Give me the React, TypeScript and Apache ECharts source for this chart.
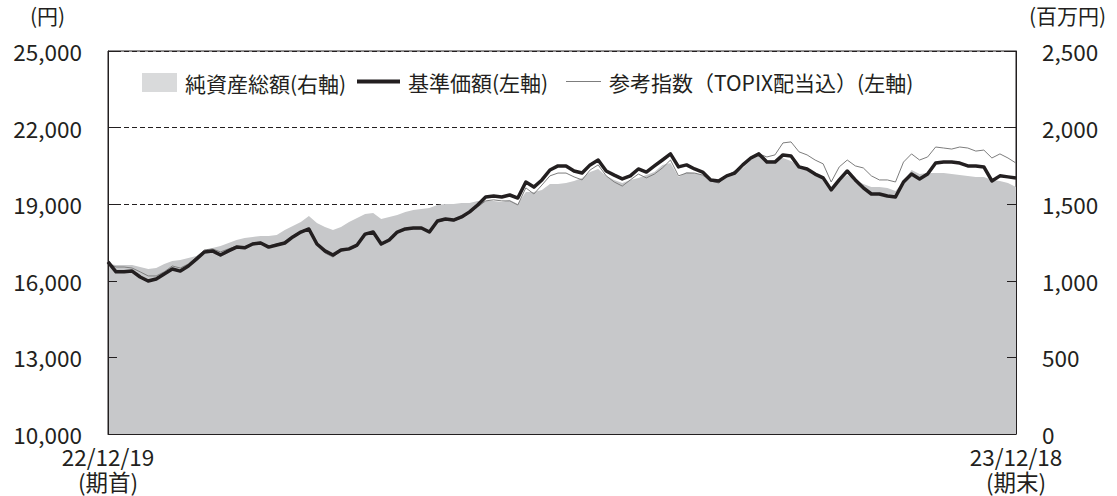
import React, { useEffect, useRef } from 'react';
import * as echarts from 'echarts';

// 基準価額 (円, left axis)
const navValues = [
  16740, 16350, 16350, 16380, 16150, 15990, 16070, 16270, 16460, 16380,
  16580, 16850, 17130, 17170, 17010, 17170, 17320, 17290, 17440, 17480,
  17320, 17400, 17480, 17720, 17910, 18030, 17440, 17170, 17010, 17210,
  17250, 17400, 17830, 17910, 17440, 17600, 17910, 18030, 18070, 18070,
  17910, 18340, 18420, 18380, 18500, 18700, 18970, 19280, 19320, 19280,
  19360, 19240, 19870, 19670, 19950, 20340, 20500, 20500, 20300, 20220,
  20540, 20730, 20300, 20140, 19990, 20110, 20380, 20260, 20500, 20730,
  20970, 20460, 20540, 20380, 20260, 19950, 19910, 20110, 20220, 20540,
  20810, 20970, 20650, 20650, 20930, 20890, 20460, 20380, 20180, 20030,
  19560, 19950, 20300, 19950, 19640, 19400, 19400, 19320, 19280, 19870,
  20180, 19990, 20180, 20610, 20650, 20650, 20610, 20500, 20500, 20460,
  19910, 20110, 20070, 20030,
];

// 参考指数（TOPIX配当込） (left axis)
const topixValues = [
  16660, 16540, 16540, 16500, 16350, 16190, 16190, 16350, 16580, 16500,
  16660, 16930, 17210, 17250, 17130, 17250, 17360, 17320, 17480, 17520,
  17360, 17440, 17520, 17760, 17950, 18030, 17400, 17090, 16930, 17170,
  17210, 17360, 17790, 17870, 17400, 17560, 17870, 17990, 18030, 18030,
  17910, 18300, 18380, 18340, 18460, 18660, 18890, 19130, 19170, 19130,
  19130, 18970, 19640, 19400, 19750, 20110, 20220, 20220, 20070, 19950,
  20340, 20540, 20110, 19870, 19710, 19950, 20180, 20030, 20180, 20420,
  20730, 20110, 20220, 20220, 20140, 19910, 19830, 20110, 20300, 20540,
  20850, 20970, 20850, 20930, 21400, 21440, 21050, 20930, 20730, 20580,
  19870, 20460, 20730, 20500, 20420, 20110, 19950, 19950, 19870, 20650,
  20970, 20730, 20850, 21240, 21200, 21160, 21240, 21200, 21080, 21120,
  20810, 20970, 20810, 20610,
];

// 純資産総額 (百万円, right axis)
const netAssets = [
  1110, 1103, 1103, 1103, 1090, 1077, 1084, 1110, 1129, 1136,
  1149, 1162, 1194, 1214, 1227, 1247, 1266, 1279, 1286, 1292,
  1292, 1299, 1332, 1358, 1384, 1423, 1377, 1351, 1332, 1351,
  1384, 1410, 1436, 1443, 1403, 1417, 1430, 1449, 1462, 1469,
  1475, 1495, 1501, 1501, 1508, 1508, 1521, 1521, 1521, 1514,
  1527, 1501, 1580, 1580, 1593, 1632, 1632, 1638, 1651, 1671,
  1710, 1730, 1684, 1658, 1638, 1658, 1671, 1691, 1710, 1756,
  1769, 1678, 1710, 1704, 1691, 1651, 1638, 1678, 1704, 1736,
  1789, 1828, 1789, 1789, 1802, 1782, 1749, 1736, 1704, 1671,
  1593, 1651, 1691, 1658, 1632, 1612, 1612, 1606, 1586, 1645,
  1723, 1697, 1704, 1704, 1704, 1697, 1691, 1684, 1678, 1678,
  1658, 1651, 1638, 1612,
];

const xEndDates = ['22/12/19', '23/12/18'];
const xEndNotes = ['(期首)', '(期末)'];
const legendNames = ['純資産総額(右軸)', '基準価額(左軸)', '参考指数（TOPIX配当込）(左軸)'];
const leftUnit = '(円)';
const rightUnit = '(百万円)';
const leftAxisRange = { min: 10000, max: 25000, interval: 3000 };
const rightAxisRange = { min: 0, max: 2500, interval: 500 };

export default function App() {
  const ref = useRef<HTMLDivElement>(null);

  useEffect(() => {
    if (!ref.current) return;
    const chart = echarts.init(ref.current, null, { renderer: 'svg' });
    const N = navValues.length;
    const cats = navValues.map((_, i) => String(i));
    const font = '"Noto Sans CJK JP", "Noto Sans", sans-serif';
    const ink = '#231f20';
    const fmt = (v: number) => v.toLocaleString('en-US');
    const axisFont = 22.5;
    const endsOnly = (i: number) => i === 0 || i === N - 1;

    const baseX = {
      type: 'category',
      data: cats,
      boundaryGap: false,
      position: 'bottom',
      axisTick: { show: false },
      splitLine: { show: false },
    };

    chart.setOption({
      animation: false,
      textStyle: { fontFamily: font, color: ink },
      grid: {
        left: 108, right: 101, top: 51, bottom: 62,
        show: true, borderColor: ink, borderWidth: 1, backgroundColor: 'transparent',
      },
      legend: [
        {
          data: [{ name: legendNames[0], icon: 'rect', itemStyle: { color: '#d9dadb' } }],
          left: 142, top: 72, itemWidth: 35, itemHeight: 19, padding: 0,
          selectedMode: false,
          textStyle: { fontSize: 21, color: ink, fontFamily: font, padding: [0, 0, 0, 3] },
        },
        {
          data: [{ name: legendNames[1], icon: 'rect' }],
          left: 357, top: 71, itemWidth: 43, itemHeight: 4, padding: 0,
          selectedMode: false,
          textStyle: { fontSize: 21, color: ink, fontFamily: font, padding: [0, 0, 0, 3] },
        },
        {
          data: [{ name: legendNames[2], icon: 'rect' }],
          left: 566, top: 71, itemWidth: 35, itemHeight: 1, padding: 0,
          selectedMode: false,
          textStyle: { fontSize: 21, color: ink, fontFamily: font, padding: [0, 0, 0, 3] },
        },
      ],
      graphic: [
        { type: 'text', left: 30, top: 4, style: { text: leftUnit, font: `21px ${font}`, fill: ink } },
        { type: 'text', left: 1029, top: 4, style: { text: rightUnit, font: `21px ${font}`, fill: ink } },
      ],
      xAxis: [
        {
          ...baseX,
          z: 5,
          axisLine: { show: true, lineStyle: { color: ink, width: 1 } },
          axisLabel: {
            interval: endsOnly,
            formatter: (_v: string, i: number) => (i === 0 ? xEndDates[0] : xEndDates[1]),
            color: ink, fontSize: axisFont, margin: 11, fontFamily: font,
          },
        },
        {
          ...baseX,
          z: 5,
          axisLine: { show: false },
          axisLabel: {
            interval: endsOnly,
            formatter: (_v: string, i: number) => (i === 0 ? xEndNotes[0] : xEndNotes[1]),
            color: ink, fontSize: axisFont, margin: 36, fontFamily: font,
          },
        },
      ],
      yAxis: [
        {
          type: 'value', position: 'left', ...leftAxisRange, z: 5,
          axisLine: { show: true, lineStyle: { color: ink, width: 1 } },
          axisTick: { show: true, inside: true, length: 9, lineStyle: { color: ink } },
          axisLabel: { color: ink, fontSize: axisFont, margin: 26, fontFamily: font, formatter: fmt },
          splitLine: { show: false },
        },
        {
          type: 'value', position: 'right', ...rightAxisRange, z: 5,
          axisLine: { show: true, lineStyle: { color: ink, width: 1 } },
          axisTick: { show: true, inside: true, length: 9, lineStyle: { color: ink } },
          axisLabel: { color: ink, fontSize: axisFont, margin: 26, fontFamily: font, formatter: fmt },
          splitLine: { show: false },
        },
        {
          type: 'value', position: 'left', ...leftAxisRange, z: 0,
          axisLine: { show: false }, axisTick: { show: false }, axisLabel: { show: false },
          splitLine: { show: true, lineStyle: { color: ink, width: 1, type: [5, 3] } },
        },
      ],
      series: [
        {
          name: legendNames[0], type: 'line', xAxisIndex: 0, yAxisIndex: 1, data: netAssets,
          symbol: 'none', z: 1,
          lineStyle: { width: 0, color: '#c7c8ca' },
          itemStyle: { color: '#d9dadb' },
          areaStyle: { color: '#c7c8ca', opacity: 1 },
        },
        {
          name: legendNames[2], type: 'line', xAxisIndex: 0, yAxisIndex: 0, data: topixValues,
          symbol: 'none', z: 2,
          lineStyle: { width: 1, color: '#7d7d7d' },
          itemStyle: { color: '#7d7d7d' },
        },
        {
          name: legendNames[1], type: 'line', xAxisIndex: 0, yAxisIndex: 0, data: navValues,
          symbol: 'none', z: 3,
          lineStyle: { width: 3.5, color: ink, join: 'round' },
          itemStyle: { color: ink },
        },
      ],
    });

    return () => chart.dispose();
  }, []);

  return (
    <div
      ref={ref}
      style={{ position: 'absolute', left: 0, top: 0, width: 1117, height: 496, background: '#fff' }}
    />
  );
}
